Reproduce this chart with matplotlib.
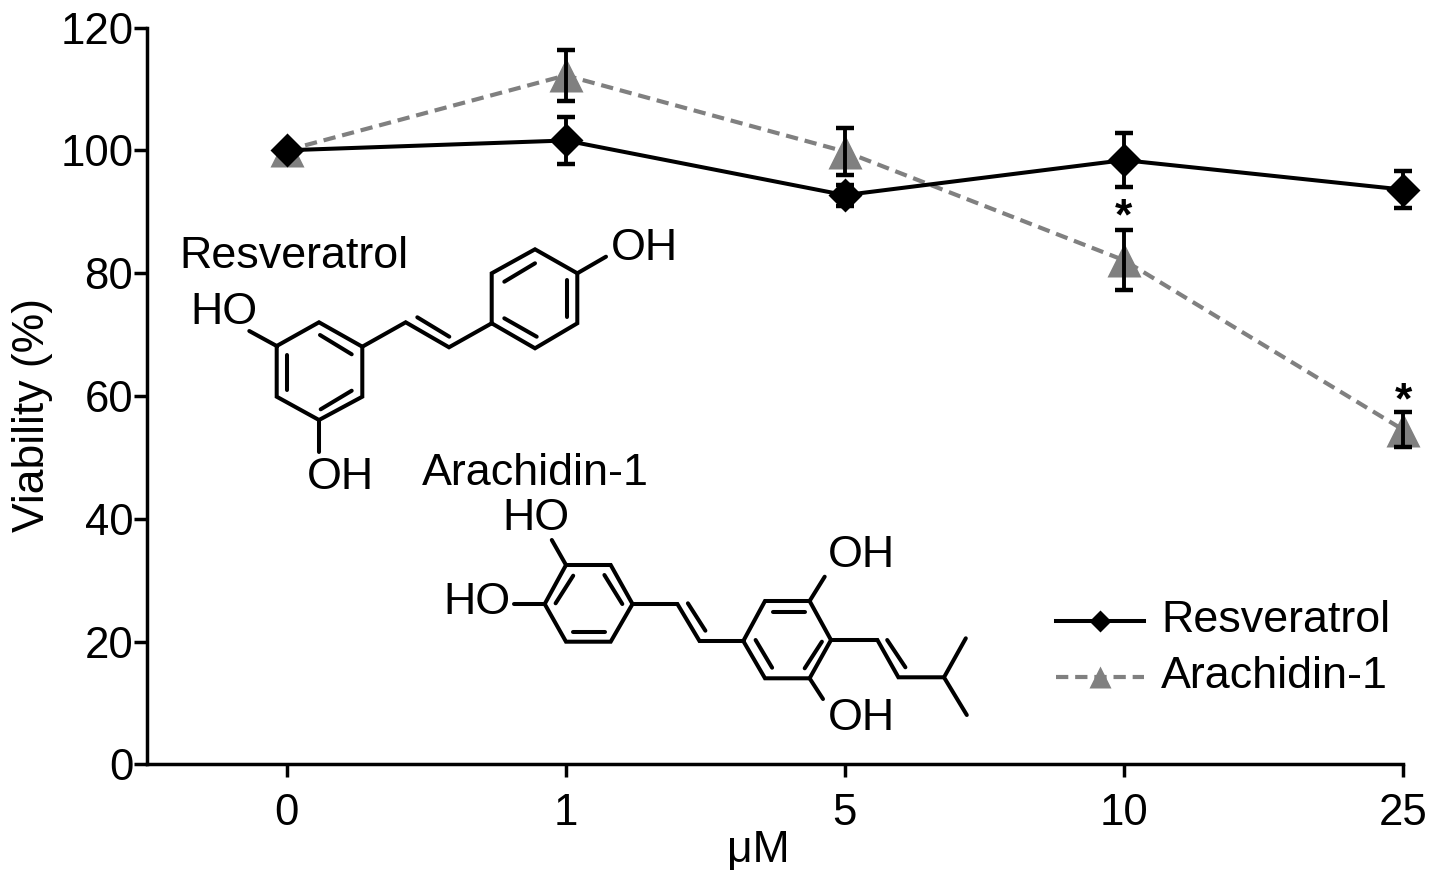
import matplotlib
matplotlib.use('Agg')
import matplotlib.pyplot as plt

plt.rcParams['font.family'] = ['Liberation Sans', 'DejaVu Sans']

W = 1441
H = 885

doses = ['0', '1', '5', '10', '25']
res_y = [100, 101.6, 92.7, 98.4, 93.6]
res_err = [0, 3.9, 1.7, 4.35, 3.0]
ara_y = [100, 112.2, 99.8, 82.1, 54.5]
ara_err = [0, 4.2, 3.9, 4.85, 2.85]
star_x = [3, 4]
star_y = [89.0, 59.0]
y_ticks = [0, 20, 40, 60, 80, 100, 120]

# molecule drawings, in picture pixels
res_bonds = [
    [(276.7, 346), (319, 322.3), (362.3, 346.7), (362.3, 396.7), (319, 420), (276.7, 396.7), (276.7, 346)],
    [(320, 335), (351.7, 354.3)],
    [(287.3, 355), (287.3, 390)],
    [(320.7, 409.3), (351.7, 390.7)],
    [(276.7, 346), (249.3, 331)],
    [(319, 420), (319, 451.7)],
    [(362.3, 346.7), (405.7, 322.3), (449, 347.3), (491.7, 323.3)],
    [(417.3, 317.3), (449.3, 336.7)],
    [(491.7, 323.3), (491.7, 273.3), (535, 249.3), (577.3, 273.3), (577.3, 323.3), (535, 348.3), (491.7, 323.3)],
    [(504.3, 281.7), (535, 263.3)],
    [(567.3, 280), (567.3, 316.7)],
    [(504.3, 318.3), (536.7, 336.7)],
    [(577.3, 273.3), (606, 256.7)],
]
ara_bonds = [
    [(566, 565), (610.7, 565), (632.5, 604), (610.7, 641.7), (566, 641.7), (544.7, 604), (566, 565)],
    [(604.4, 575), (622.3, 604)],
    [(573.2, 632.3), (604.7, 632.3)],
    [(573.2, 575.7), (555.6, 603.3)],
    [(566, 565), (551.8, 540)],
    [(544.7, 604), (513.5, 604)],
    [(632.5, 604), (677.4, 604), (699.5, 641), (743.3, 641)],
    [(687.9, 603.3), (705.4, 630.7)],
    [(743.3, 641), (765, 601), (809.6, 601), (831, 640), (809.6, 678.3), (765, 678.3), (743.3, 641)],
    [(773.2, 612.3), (804.7, 612.3)],
    [(821.9, 641.7), (804.7, 668.3)],
    [(755.6, 640), (772.1, 667.7)],
    [(809.6, 601), (824.7, 576.7)],
    [(809.6, 678.3), (823, 699)],
    [(831, 640), (877.4, 640), (898.4, 677.3), (944, 677.3)],
    [(887.2, 640), (905.4, 667.3)],
    [(965.8, 638.3), (944, 677.3), (966.8, 715)],
]
mol_labels = [
    (179, 268, 'Resveratrol'),
    (190, 324, 'HO'),
    (611, 260, 'OH'),
    (307, 489, 'OH'),
    (422, 485, 'Arachidin-1'),
    (502, 530, 'HO'),
    (443, 614, 'HO'),
    (828, 567, 'OH'),
    (828, 730, 'OH'),
]

fig = plt.figure(figsize=(W / 100, H / 100), dpi=100)
ax = fig.add_axes([147 / W, (H - 764.3) / H, (1403 - 147) / W, (764.3 - 27.5) / H])

x = list(range(len(doses)))

ax.plot(x, ara_y, color='#808080', lw=3, ls=(0, (2.95, 1.65)), marker='^', ms=25,
        mec='none', label='Arachidin-1', zorder=2, clip_on=False)
ax.errorbar(x[1:], ara_y[1:], yerr=ara_err[1:], fmt='none', ecolor='black', elinewidth=2.8,
            capsize=6.5, capthick=3.2, zorder=3, clip_on=False)
ax.errorbar(x[1:], res_y[1:], yerr=res_err[1:], fmt='none', ecolor='black', elinewidth=2.8,
            capsize=6.5, capthick=3.2, zorder=4, clip_on=False)
ax.plot(x, res_y, color='black', lw=2.9, marker='D', ms=17.5, mec='none',
        label='Resveratrol', zorder=5, clip_on=False)

for sx, sy in zip(star_x, star_y):
    ax.text(sx, sy, '*', ha='center', va='center', fontsize=32, fontweight='bold',
            color='black', zorder=6)

ax.set_xlim(-0.5, 4)
ax.set_ylim(0, 120)
ax.set_xticks(x)
ax.set_xticklabels(doses)
ax.set_yticks(y_ticks)
ax.tick_params(axis='both', length=9.4, width=2.5, labelsize=31.5, color='black')
ax.tick_params(axis='x', pad=11)
ax.tick_params(axis='y', pad=0.5)
for lab in ax.get_yticklabels():
    lab.set_va('center_baseline')
ax.spines['top'].set_visible(False)
ax.spines['right'].set_visible(False)
ax.spines['left'].set_linewidth(2.5)
ax.spines['bottom'].set_linewidth(2.5)
ax.patch.set_alpha(0)

fig.text(758 / W, 1 - 851 / H, '\u03bcM', ha='center', va='center', fontsize=32)
fig.text(33 / W, 1 - 415 / H, 'Viability (%)', ha='center', va='center', rotation=90, fontsize=32)

handles, labels = ax.get_legend_handles_labels()
order = [labels.index('Resveratrol'), labels.index('Arachidin-1')]
leg = ax.legend([handles[i] for i in order], [labels[i] for i in order], frameon=False,
                fontsize=32.3, loc='lower left', bbox_to_anchor=(1056 / W, 1 - 701.5 / H),
                bbox_transform=fig.transFigure, borderaxespad=0, borderpad=0,
                handlelength=1.96, handletextpad=0.38, labelspacing=0.325,
                markerscale=0.66)
# the legend lines sit a little below the middle of the words
for t in leg.get_texts():
    t.set_position((0, 4.5))

over = fig.add_axes([0, 0, 1, 1])
over.set_xlim(0, W)
over.set_ylim(H, 0)
over.axis('off')
over.patch.set_alpha(0)
for bond in res_bonds + ara_bonds:
    over.plot([p[0] for p in bond], [p[1] for p in bond], color='black', lw=2.9,
              solid_capstyle='round', solid_joinstyle='miter')
for lx, ly, s in mol_labels:
    over.text(lx, ly, s, ha='left', va='baseline', fontsize=32.3, color='black')

fig.savefig('out.png', dpi=100)
